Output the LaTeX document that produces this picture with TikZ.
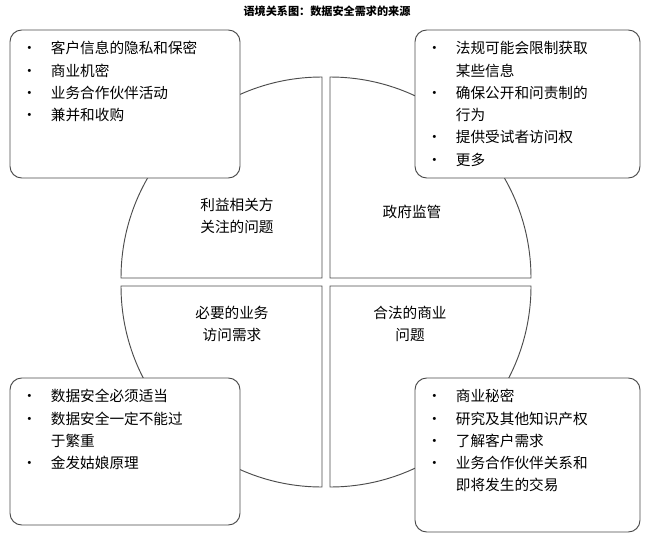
\documentclass[tikz,border=0pt]{standalone}
\usepackage{fontspec}
\setmainfont{Noto Sans CJK SC}
\usetikzlibrary{positioning}
\tikzset{quad/.style={draw=black!70, thick, fill=white},
  box/.style={draw=black!70, thick, fill=white, rounded corners=10pt},
  lst/.style={anchor=north west, font=\fontsize{12.5}{19}\selectfont, inner sep=0pt},
  lbl/.style={font=\fontsize{12.5}{19}\selectfont, align=center}}
\newcommand{\blist}[1]{\begin{tabular}{@{}l@{\hspace{12pt}}l@{}}#1\end{tabular}}
\begin{document}
\begin{tikzpicture}[x=0.03cm, y=0.03cm]
   \useasboundingbox (0,0) rectangle (654,546);
   \node[font=\bfseries\fontsize{9.5}{11}\selectfont] (title) at (327,535) {语境关系图：数据安全需求的来源};
   % quadrants
   \draw[quad] (322,268) -- ++(0,201) arc (90:180:201) -- cycle;
   \draw[quad] (330,268) -- ++(201,0) arc (0:90:201) -- cycle;
   \draw[quad] (322,260) -- ++(-201,0) arc (180:270:201) -- cycle;
   \draw[quad] (330,260) -- ++(0,-201) arc (270:360:201) -- cycle;
   \node[lbl] (q1) at (237,330) {利益相关方\\关注的问题};
   \node[lbl] (q2) at (412,334) {政府监管};
   \node[lbl] (q3) at (232,222) {必要的业务\\访问需求};
   \node[lbl] (q4) at (410,222) {合法的商业\\问题};
   % boxes
   \draw[box] (10,516) rectangle (240,368);
   \draw[box] (415,516) rectangle (640,368);
   \draw[box] (10,168) rectangle (240,21);
   \draw[box] (415,168) rectangle (640,14);
   \node[lst] (t1) at (22,508) {\blist{· & 客户信息的隐私和保密\\ · & 商业机密\\ · & 业务合作伙伴活动\\ · & 兼并和收购}};
   \node[lst] (t2) at (427,508) {\blist{· & 法规可能会限制获取\\ & 某些信息\\ · & 确保公开和问责制的\\ & 行为\\ · & 提供受试者访问权\\ · & 更多}};
   \node[lst] (t3) at (22,160) {\blist{· & 数据安全必须适当\\ · & 数据安全一定不能过\\ & 于繁重\\ · & 金发姑娘原理}};
   \node[lst] (t4) at (427,160) {\blist{· & 商业秘密\\ · & 研究及其他知识产权\\ · & 了解客户需求\\ · & 业务合作伙伴关系和\\ & 即将发生的交易}};
\end{tikzpicture}
\end{document}
